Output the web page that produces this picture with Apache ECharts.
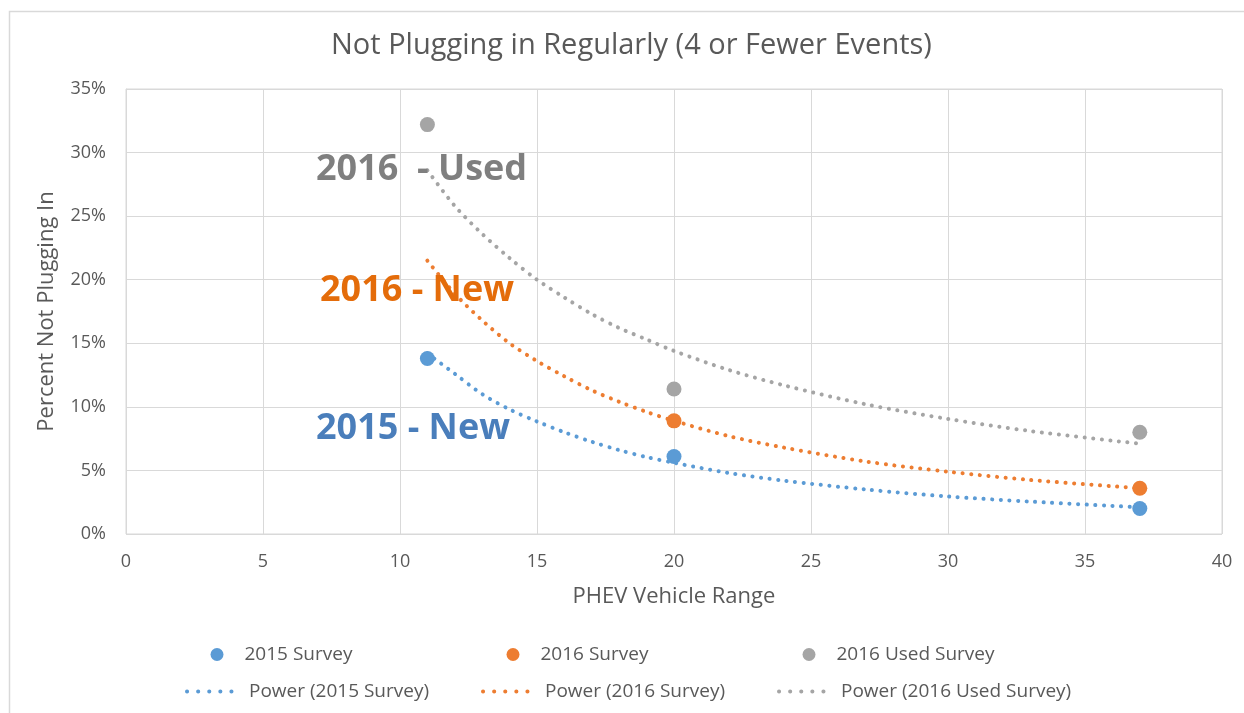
<!DOCTYPE html>
<html>
<head>
<meta charset="utf-8">
<script src="https://cdn.jsdelivr.net/npm/echarts@6/dist/echarts.min.js"></script>
<style>
html,body{margin:0;padding:0;background:#fff;}
#chart{width:1244px;height:713px;}
</style>
</head>
<body>
<div id="chart"></div>
<script>
// Survey points [PHEV range, percent not plugging in]
const survey2015 = [[11, 13.8], [20, 6.1], [37, 2.0]];
const survey2016 = [[20, 8.9], [37, 3.6]];
const survey2016Used = [[11, 32.2], [20, 11.4], [37, 8.0]];

// Power trendlines
const power2015 = [[11, 14.2], [12, 12.6], [13, 11.0], [14, 9.8], [15, 8.85], [16, 8.0], [17, 7.25], [18, 6.6], [19, 6.05], [20, 5.6], [22, 4.8], [24, 4.2], [27, 3.5], [30, 2.95], [33, 2.55], [37, 2.1]];
const power2016 = [[11, 21.5], [12, 18.9], [13, 16.8], [14, 15.0], [15, 13.6], [16, 12.4], [17, 11.3], [18, 10.4], [19, 9.6], [20, 8.9], [22, 7.7], [24, 6.8], [27, 5.7], [30, 4.9], [33, 4.25], [37, 3.6]];
const power2016Used = [[11, 28.6], [12, 25.8], [13, 23.6], [14, 21.7], [15, 20.0], [16, 18.6], [17, 17.3], [18, 16.2], [19, 15.3], [20, 14.4], [22, 12.9], [24, 11.7], [27, 10.2], [30, 9.05], [33, 8.1], [37, 7.1]];

const seriesNames = ['2015 Survey', '2016 Survey', '2016 Used Survey'];
const trendNames = ['Power (2015 Survey)', 'Power (2016 Survey)', 'Power (2016 Used Survey)'];
const annotations = ['2015 - New', '2016 - New', '2016  - Used'];

const colors = ['#5B9BD5', '#ED7D31', '#A5A5A5'];
const textColors = ['#4A7EBB', '#E46C0A', '#7F7F7F'];
const FONT = 'Open Sans';
const GREY = '#595959';

const chart = echarts.init(document.getElementById('chart'), null, {renderer: 'canvas'});

function scatter(name, data, c) {
  return {name, type: 'scatter', data, symbol: 'circle', symbolSize: 15,
    itemStyle: {color: c, opacity: 1}, z: 5};
}
function trend(name, data, c) {
  return {name, type: 'line', data, showSymbol: false, symbol: 'none', smooth: 0.3,
    lineStyle: {color: c, width: 4, type: [0.1, 8.5], cap: 'round'}, itemStyle: {color: c}, z: 3};
}

const legendX = [205.5, 501.5, 797.5];
const legends = [];
seriesNames.forEach((n, i) => legends.push({
  left: legendX[i], top: 640, data: [n], icon: 'circle', itemWidth: 13, itemHeight: 13, itemGap: 0,
  itemStyle: {opacity: 1},
  textStyle: {color: GREY, fontFamily: FONT, fontSize: 19, padding: [0, 0, 0, 16]}, selectedMode: false
}));
trendNames.forEach((n, i) => legends.push({
  left: legendX[i] - 25.5, top: 677, data: [n], itemWidth: 55, itemHeight: 14, itemGap: 0,
  itemStyle: {opacity: 0},
  lineStyle: {width: 4, type: [0.1, 11], cap: 'round'},
  textStyle: {color: GREY, fontFamily: FONT, fontSize: 19, padding: [0, 0, 0, 2]}, selectedMode: false
}));

const option = {
  animation: false,
  backgroundColor: '#fff',
  title: {text: 'Not Plugging in Regularly (4 or Fewer Events)', left: 326, top: 26,
    textStyle: {color: GREY, fontFamily: FONT, fontSize: 29, fontWeight: 'normal'}},
  legend: legends,
  grid: {left: 126, right: 22, top: 89, bottom: 179, show: true, borderColor: '#D9D9D9', borderWidth: 1},
  xAxis: {type: 'value', min: 0, max: 40, interval: 5, name: 'PHEV Vehicle Range', nameLocation: 'middle', nameGap: 52,
    nameTextStyle: {color: GREY, fontFamily: FONT, fontSize: 22},
    axisLine: {show: false}, axisTick: {show: false},
    axisLabel: {color: GREY, fontFamily: FONT, fontSize: 18, margin: 19},
    splitLine: {lineStyle: {color: '#D9D9D9', width: 1}}},
  yAxis: {type: 'value', min: 0, max: 35, interval: 5, name: 'Percent Not Plugging In', nameLocation: 'middle', nameGap: 68,
    nameTextStyle: {color: GREY, fontFamily: FONT, fontSize: 22},
    axisLine: {show: true, lineStyle: {color: '#D9D9D9'}}, axisTick: {show: false},
    axisLabel: {color: GREY, fontFamily: FONT, fontSize: 18, margin: 20, formatter: v => v + '%'},
    splitLine: {lineStyle: {color: '#D9D9D9', width: 1}}},
  series: [
    trend(trendNames[0], power2015, colors[0]),
    trend(trendNames[1], power2016, colors[1]),
    trend(trendNames[2], power2016Used, colors[2]),
    scatter(seriesNames[0], survey2015, colors[0]),
    scatter(seriesNames[1], survey2016, colors[1]),
    scatter(seriesNames[2], survey2016Used, colors[2])
  ],
  graphic: [
    {type: 'rect', left: 7, top: 9, shape: {width: 1300, height: 800}, silent: true, z: -10,
      style: {fill: 'none', stroke: '#D9D9D9', lineWidth: 1.5}},
    {type: 'text', left: 316, top: 411, z: 10, style: {text: annotations[0], fill: textColors[0], font: 'bold 36px "' + FONT + '"'}},
    {type: 'text', left: 320, top: 273, z: 10, style: {text: annotations[1], fill: textColors[1], font: 'bold 36px "' + FONT + '"'}},
    {type: 'text', left: 316, top: 152, z: 10, style: {text: annotations[2], fill: textColors[2], font: 'bold 36px "' + FONT + '"'}}
  ]
};
chart.setOption(option);
</script>
</body>
</html>
